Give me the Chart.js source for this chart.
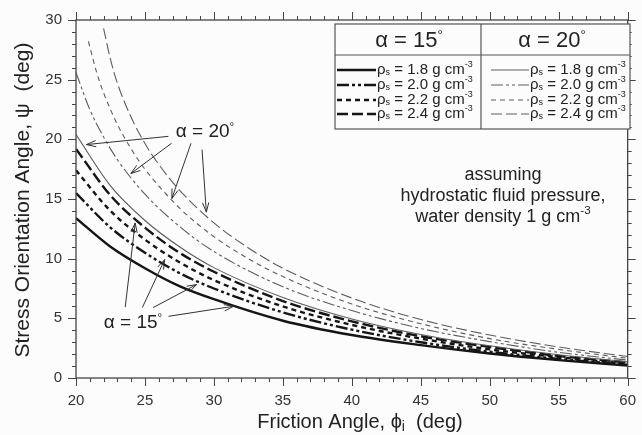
<!DOCTYPE html>
<html>
<head>
<meta charset="utf-8">
<script src="https://cdn.jsdelivr.net/npm/chart.js@4.4.1/dist/chart.umd.min.js"></script>
<style>
  html, body { margin: 0; padding: 0; background: #fcfcfc; }
  #wrap { width: 642px; height: 435px; }
</style>
</head>
<body>
<div id="wrap"><canvas id="c" width="642" height="435"></canvas></div>
<script>
// friction angle (deg) sample points
const phiCommon = [20, 22.5, 25, 27.5, 30, 35, 40, 45, 50, 55, 60];
const phiA20r20 = [20, 21, 22, 23, 25, 27.5, 30, 35, 40, 45, 50, 55, 60];
const phiA20r22 = [20.9, 21.5, 22, 23, 24, 25, 27.5, 30, 32.5, 35, 40, 45, 50, 55, 60];
const phiA20r24 = [22, 22.5, 23, 24, 25, 26, 27.5, 30, 32.5, 35, 40, 45, 50, 55, 60];

// stress orientation angle psi (deg)
const psiA15r18 = [13.4, 11.0, 9.2, 7.7, 6.6, 4.8, 3.6, 2.75, 2.05, 1.5, 1.05];
const psiA15r20 = [15.5, 12.6, 10.5, 8.8, 7.5, 5.5, 4.05, 3.0, 2.2, 1.6, 1.1];
const psiA15r22 = [17.4, 14.0, 11.6, 9.7, 8.2, 6.0, 4.45, 3.3, 2.4, 1.75, 1.2];
const psiA15r24 = [19.2, 15.3, 12.6, 10.5, 8.9, 6.45, 4.75, 3.5, 2.6, 1.85, 1.3];
const psiA20r18 = [20.4, 16.1, 13.2, 11.0, 9.25, 6.75, 4.95, 3.65, 2.7, 1.95, 1.35];
const psiA20r20 = [25.6, 22.5, 20.2, 18.3, 15.4, 12.7, 10.6, 7.65, 5.65, 4.15, 3.05, 2.15, 1.5];
const psiA20r22 = [28.2, 25.6, 23.9, 21.25, 19.2, 17.5, 14.25, 11.85, 10.0, 8.5, 6.2, 4.55, 3.3, 2.4, 1.65];
const psiA20r24 = [29.3, 26.7, 24.7, 21.85, 19.65, 17.9, 15.75, 13.0, 10.9, 9.2, 6.7, 4.9, 3.6, 2.6, 1.8];

const densities = ['1.8', '2.0', '2.2', '2.4'];
const xTicks = [20, 25, 30, 35, 40, 45, 50, 55, 60];
const yTicks = [0, 5, 10, 15, 20, 25, 30];

const FONT = '"Liberation Sans", Arial, Helvetica, sans-serif';
const dark = '#151515';
const grey = '#5c5c5c';
const dashes = [[], [12, 3, 3, 3, 3, 3], [5, 4], [11, 4]];

function pts(xs, ys) { return xs.map((v, i) => ({ x: v, y: ys[i] })); }

const series15 = [pts(phiCommon, psiA15r18), pts(phiCommon, psiA15r20), pts(phiCommon, psiA15r22), pts(phiCommon, psiA15r24)];
const series20 = [pts(phiCommon, psiA20r18), pts(phiA20r20, psiA20r20), pts(phiA20r22, psiA20r22), pts(phiA20r24, psiA20r24)];

const datasets = [];
series20.forEach((d, i) => datasets.push({
    label: 'a20 ' + densities[i], data: d, borderColor: grey, borderWidth: 1.1,
    borderDash: dashes[i], pointRadius: 0, cubicInterpolationMode: 'monotone', fill: false
}));
series15.forEach((d, i) => datasets.push({
    label: 'a15 ' + densities[i], data: d, borderColor: dark, borderWidth: 2.4,
    borderDash: dashes[i], pointRadius: 0, cubicInterpolationMode: 'monotone', fill: false
}));

// arrows: [from x, from y, to x, to y] in data units
const arrows20 = [[26.7, 20.25, 20.76, 19.56], [26.93, 19.67, 23.98, 17.13], [28.34, 19.67, 26.95, 15.04], [29.14, 19.14, 29.45, 13.9]];
const arrows15 = [[23.57, 5.95, 24.29, 12.99], [24.81, 5.9, 26.43, 9.92], [25.59, 5.9, 28.74, 7.83], [26.71, 5.17, 31.43, 6.01]];

// draw text made of runs (normal / sub / sup)
function runs(ctx, x, y, parts, size, align) {
    let w = 0;
    parts.forEach(p => {
        ctx.font = (p.s ? size * p.s : size) + 'px ' + FONT;
        p.w = ctx.measureText(p.t).width;
        w += p.w;
    });
    let cx = align === 'left' ? x : align === 'right' ? x - w : x - w / 2;
    ctx.textAlign = 'left';
    ctx.textBaseline = 'middle';
    parts.forEach(p => {
        ctx.font = (p.s ? size * p.s : size) + 'px ' + FONT;
        ctx.fillText(p.t, cx, y + (p.dy || 0));
        cx += p.w;
    });
}

function arrow(ctx, x0, y0, x1, y1) {
    ctx.beginPath();
    ctx.moveTo(x0, y0);
    ctx.lineTo(x1, y1);
    const ang = Math.atan2(y1 - y0, x1 - x0);
    const L = 10, s = 0.32;
    ctx.moveTo(x1 - L * Math.cos(ang - s), y1 - L * Math.sin(ang - s));
    ctx.lineTo(x1, y1);
    ctx.lineTo(x1 - L * Math.cos(ang + s), y1 - L * Math.sin(ang + s));
    ctx.stroke();
}

const decor = {
    id: 'decor',
    beforeDraw(chart) {
        const { ctx } = chart;
        ctx.save();
        ctx.fillStyle = '#fcfcfc';
        ctx.fillRect(0, 0, chart.width, chart.height);
        ctx.restore();
    },
    afterDatasetsDraw(chart) {
        const { ctx, chartArea: a, scales: { x, y } } = chart;
        ctx.save();
        // frame
        ctx.strokeStyle = '#444';
        ctx.lineWidth = 1.3;
        ctx.strokeRect(a.left, a.top, a.right - a.left, a.bottom - a.top);
        // ticks
        ctx.lineWidth = 1;
        ctx.beginPath();
        for (let v = 20; v <= 60; v++) {
            const px = Math.round(x.getPixelForValue(v)) + 0.5;
            const len = v % 5 === 0 ? 8 : 4;
            ctx.moveTo(px, a.bottom); ctx.lineTo(px, a.bottom + len);
            ctx.moveTo(px, a.top); ctx.lineTo(px, a.top - len);
        }
        for (let v = 0; v <= 30; v++) {
            const py = Math.round(y.getPixelForValue(v)) + 0.5;
            const len = v % 5 === 0 ? 8 : 4;
            ctx.moveTo(a.left - len, py); ctx.lineTo(a.left, py);
            ctx.moveTo(a.right, py); ctx.lineTo(a.right + len, py);
        }
        ctx.stroke();

        // axis titles
        ctx.fillStyle = '#222';
        runs(ctx, 360, 422, [{ t: 'Friction Angle, \u03d5' }, { t: 'i', s: 0.7, dy: 5 }, { t: '  (deg)' }], 20, 'center');
        ctx.save();
        ctx.translate(23, 200);
        ctx.rotate(-Math.PI / 2);
        runs(ctx, 0, 0, [{ t: 'Stress Orientation Angle, \u03c8  (deg)' }], 21, 'center');
        ctx.restore();

        // annotation arrows
        ctx.strokeStyle = '#333';
        ctx.lineWidth = 1;
        arrows20.concat(arrows15).forEach(r => arrow(ctx,
            x.getPixelForValue(r[0]), y.getPixelForValue(r[1]),
            x.getPixelForValue(r[2]), y.getPixelForValue(r[3])));
        ctx.fillStyle = '#222';
        runs(ctx, 205, 132, [{ t: '\u03b1 = 20' }, { t: '\u00b0', s: 0.6, dy: -5 }], 19, 'center');
        runs(ctx, 133, 323, [{ t: '\u03b1 = 15' }, { t: '\u00b0', s: 0.6, dy: -5 }], 19, 'center');

        // note
        runs(ctx, 503, 175, [{ t: 'assuming' }], 18, 'center');
        runs(ctx, 503, 196, [{ t: 'hydrostatic fluid pressure,' }], 18, 'center');
        runs(ctx, 503, 217, [{ t: 'water density 1 g cm' }, { t: '-3', s: 0.65, dy: -6 }], 18, 'center');

        // legend table
        const L = 335, R = 630, T = 24, B = 129, M = 481, H = 55;
        ctx.fillStyle = '#fcfcfc';
        ctx.fillRect(L, T, R - L, B - T);
        ctx.strokeStyle = '#555';
        ctx.lineWidth = 1.2;
        ctx.strokeRect(L, T, R - L, B - T);
        ctx.beginPath();
        ctx.moveTo(L, H); ctx.lineTo(R, H);
        ctx.moveTo(M, T); ctx.lineTo(M, B);
        ctx.stroke();
        ctx.fillStyle = '#222';
        runs(ctx, 409, 41, [{ t: '\u03b1 = 15' }, { t: '\u00b0', s: 0.6, dy: -6 }], 22, 'center');
        runs(ctx, 552, 41, [{ t: '\u03b1 = 20' }, { t: '\u00b0', s: 0.6, dy: -6 }], 22, 'center');
        const rowY = [70, 85, 100, 114];
        densities.forEach((d, i) => {
            const ry = rowY[i];
            [[337, 376, dark, 2.4, 377], [491, 529, grey, 1.1, 530]].forEach(c => {
                ctx.strokeStyle = c[2];
                ctx.lineWidth = c[3];
                ctx.setLineDash(dashes[i]);
                ctx.beginPath();
                ctx.moveTo(c[0], ry); ctx.lineTo(c[1], ry);
                ctx.stroke();
                ctx.setLineDash([]);
                ctx.fillStyle = '#222';
                runs(ctx, c[4], ry, [{ t: '\u03c1' }, { t: 's', s: 0.6, dy: 3 }, { t: ' = ' + d + ' g cm' }, { t: '-3', s: 0.6, dy: -5 }], 15, 'left');
            });
        });
        ctx.restore();
    }
};

new Chart(document.getElementById('c'), {
    type: 'line',
    data: { datasets: datasets },
    options: {
        responsive: false,
        animation: false,
        layout: { padding: { left: 0, top: 20, right: 6, bottom: 0 } },
        plugins: { legend: { display: false }, tooltip: { enabled: false } },
        scales: {
            x: {
                type: 'linear', min: 20, max: 60,
                afterFit: s => { s.height = 57; },
                afterBuildTicks: s => { s.ticks = xTicks.map(v => ({ value: v })); },
                grid: { display: false }, border: { display: false },
                ticks: { color: '#333', font: { family: FONT, size: 15 }, padding: 6, maxRotation: 0 }
            },
            y: {
                type: 'linear', min: 0, max: 30,
                afterFit: s => { s.width = 76; },
                afterBuildTicks: s => { s.ticks = yTicks.map(v => ({ value: v })); },
                grid: { display: false }, border: { display: false },
                ticks: { color: '#333', font: { family: FONT, size: 15 }, padding: 6 }
            }
        }
    },
    plugins: [decor]
});
</script>
</body>
</html>
